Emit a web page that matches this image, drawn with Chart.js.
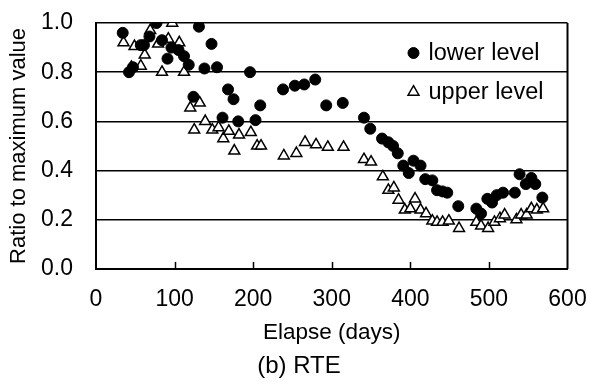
<!DOCTYPE html>
<html>
<head>
<meta charset="utf-8">
<script src="https://cdn.jsdelivr.net/npm/chart.js@4.4.1/dist/chart.umd.min.js"></script>
<style>
  html, body { margin: 0; padding: 0; background: #fff; }
  #wrap { width: 598px; height: 392px; position: relative; }
</style>
</head>
<body>
<div id="wrap"><canvas id="rteChart"></canvas></div>
<script>
// lower level (filled circles)
const lowerDays = [34, 42, 47, 57, 61, 68, 77, 84, 91, 96, 105, 112, 118, 124, 131, 138, 147, 154, 161, 168, 175, 181, 196, 203, 209,
  238, 253, 265, 279, 293, 314, 341, 349, 364, 372, 378, 384, 391, 398, 404, 413, 419, 428, 434, 441, 447, 461,
  484, 490, 498, 504, 510, 518, 533, 539, 547, 554, 559, 568];
const lowerRatio = [0.96, 0.80, 0.82, 0.91, 0.91, 0.945, 1.00, 0.93, 0.855, 0.90, 0.89, 0.865, 0.83, 0.70, 0.985, 0.815, 0.915, 0.82, 0.615, 0.73, 0.69, 0.60, 0.80, 0.605, 0.665,
  0.73, 0.745, 0.75, 0.77, 0.665, 0.675, 0.615, 0.57, 0.53, 0.515, 0.50, 0.47, 0.42, 0.39, 0.44, 0.42, 0.365, 0.36, 0.32, 0.315, 0.31, 0.255,
  0.245, 0.225, 0.285, 0.27, 0.30, 0.31, 0.31, 0.385, 0.345, 0.37, 0.345, 0.29];

// upper level (open triangles)
const upperDays = [35, 45, 49, 57, 62, 69, 79, 84, 92, 97, 106, 112, 120, 125, 132, 139, 148, 156, 162, 169, 176, 182, 197, 205, 210,
  239, 255, 266, 280, 295, 315, 341, 350, 365, 372, 379, 385, 393, 400, 406, 413, 420, 428, 434, 441, 449, 462,
  484, 490, 499, 507, 514, 520, 535, 541, 548, 554, 561, 569];
const upperRatio = [0.92, 0.82, 0.905, 0.825, 0.87, 0.97, 0.915, 0.80, 0.935, 1.00, 0.92, 0.80, 0.655, 0.565, 0.675, 0.60, 0.565, 0.575, 0.53, 0.56, 0.48, 0.545, 0.555, 0.50, 0.50,
  0.46, 0.47, 0.515, 0.505, 0.495, 0.495, 0.445, 0.435, 0.375, 0.32, 0.33, 0.28, 0.24, 0.245, 0.285, 0.24, 0.225, 0.195, 0.19, 0.19, 0.195, 0.165,
  0.19, 0.175, 0.165, 0.19, 0.205, 0.22, 0.20, 0.22, 0.22, 0.245, 0.24, 0.245];

const xTicks = [0, 100, 200, 300, 400, 500, 600];
const yTicks = [0.0, 0.2, 0.4, 0.6, 0.8, 1.0];

const toPoints = (xs, ys) => xs.map((x, i) => ({ x: x, y: ys[i] }));

Chart.defaults.font.family = "'Liberation Sans', Arial, sans-serif";
Chart.defaults.color = '#000';

// inward tick marks on the x axis, right frame line, and in-plot legend
const framePlugin = {
    id: 'frame',
    afterDraw(chart) {
        const { ctx, chartArea, scales } = chart;
        ctx.save();
        ctx.strokeStyle = '#000';
        ctx.lineWidth = 1.5;
        xTicks.forEach(v => {
            if (v === 0 || v === 600) return;
            const px = Math.round(scales.x.getPixelForValue(v)) + 0.5;
            ctx.beginPath();
            ctx.moveTo(px, chartArea.bottom);
            ctx.lineTo(px, chartArea.bottom - 7);
            ctx.stroke();
        });
        ctx.lineWidth = 2;
        ctx.beginPath();
        ctx.moveTo(chartArea.right, chartArea.top);
        ctx.lineTo(chartArea.right, chartArea.bottom);
        ctx.stroke();

        // legend
        const lx = chartArea.right - 154;
        const rows = [chartArea.top + 30, chartArea.top + 69];
        chart.data.datasets.forEach((ds, i) => {
            const y = rows[i];
            ctx.lineWidth = ds.borderWidth;
            ctx.strokeStyle = ds.borderColor;
            ctx.fillStyle = ds.backgroundColor;
            Chart.helpers.drawPoint(ctx, { pointStyle: ds.pointStyle, radius: ds.pointRadius, borderWidth: ds.borderWidth }, lx, y);
            ctx.fillStyle = '#000';
            ctx.font = "23.5px 'Liberation Sans', Arial, sans-serif";
            ctx.textBaseline = 'middle';
            ctx.textAlign = 'left';
            ctx.fillText(ds.label, lx + 15, y + 1);
        });
        ctx.restore();
    }
};

new Chart(document.getElementById('rteChart'), {
    type: 'scatter',
    data: {
        datasets: [
            {
                label: 'lower level',
                data: toPoints(lowerDays, lowerRatio),
                pointStyle: 'circle',
                pointRadius: 5.5,
                backgroundColor: '#000',
                borderColor: '#000',
                borderWidth: 1
            },
            {
                label: 'upper level',
                data: toPoints(upperDays, upperRatio),
                pointStyle: 'triangle',
                pointRadius: 6.3,
                backgroundColor: '#fff',
                borderColor: '#000',
                borderWidth: 1.5
            }
        ]
    },
    options: {
        responsive: true,
        maintainAspectRatio: false,
        animation: false,
        layout: { padding: { left: 0, right: 0, top: 23, bottom: 0 } },
        plugins: {
            legend: { display: false },
            tooltip: { enabled: false },
            title: {
                display: true,
                position: 'bottom',
                text: '(b) RTE',
                color: '#000',
                font: { size: 24, weight: 'normal' },
                padding: { top: 5, bottom: 11 }
            }
        },
        scales: {
            x: {
                type: 'linear',
                min: 0,
                max: 600,
                afterBuildTicks: s => { s.ticks = xTicks.map(v => ({ value: v })); },
                afterFit: s => { s.height = 78.3; s.paddingLeft = 0; s.paddingRight = 30.5; },
                grid: { display: false, drawTicks: false },
                border: { display: true, color: '#000', width: 2 },
                ticks: { font: { size: 23 }, padding: 17, maxRotation: 0 },
                title: {
                    display: true,
                    text: 'Elapse (days)',
                    font: { size: 22.5 },
                    padding: { top: 0, bottom: 1 }
                }
            },
            y: {
                type: 'linear',
                min: 0,
                max: 1,
                afterBuildTicks: s => { s.ticks = yTicks.map(v => ({ value: v })); },
                afterFit: s => { s.width = 96; s.paddingTop = 0; s.paddingBottom = 0; },
                grid: { color: '#000', lineWidth: 1.5, drawTicks: false },
                border: { display: true, color: '#000', width: 2 },
                ticks: {
                    font: { size: 23 },
                    padding: 23,
                    callback: v => v.toFixed(1)
                },
                title: {
                    display: true,
                    text: 'Ratio to maximum value',
                    font: { size: 22 },
                    padding: { top: 6, bottom: 0 }
                }
            }
        }
    },
    plugins: [framePlugin]
});
</script>
</body>
</html>
